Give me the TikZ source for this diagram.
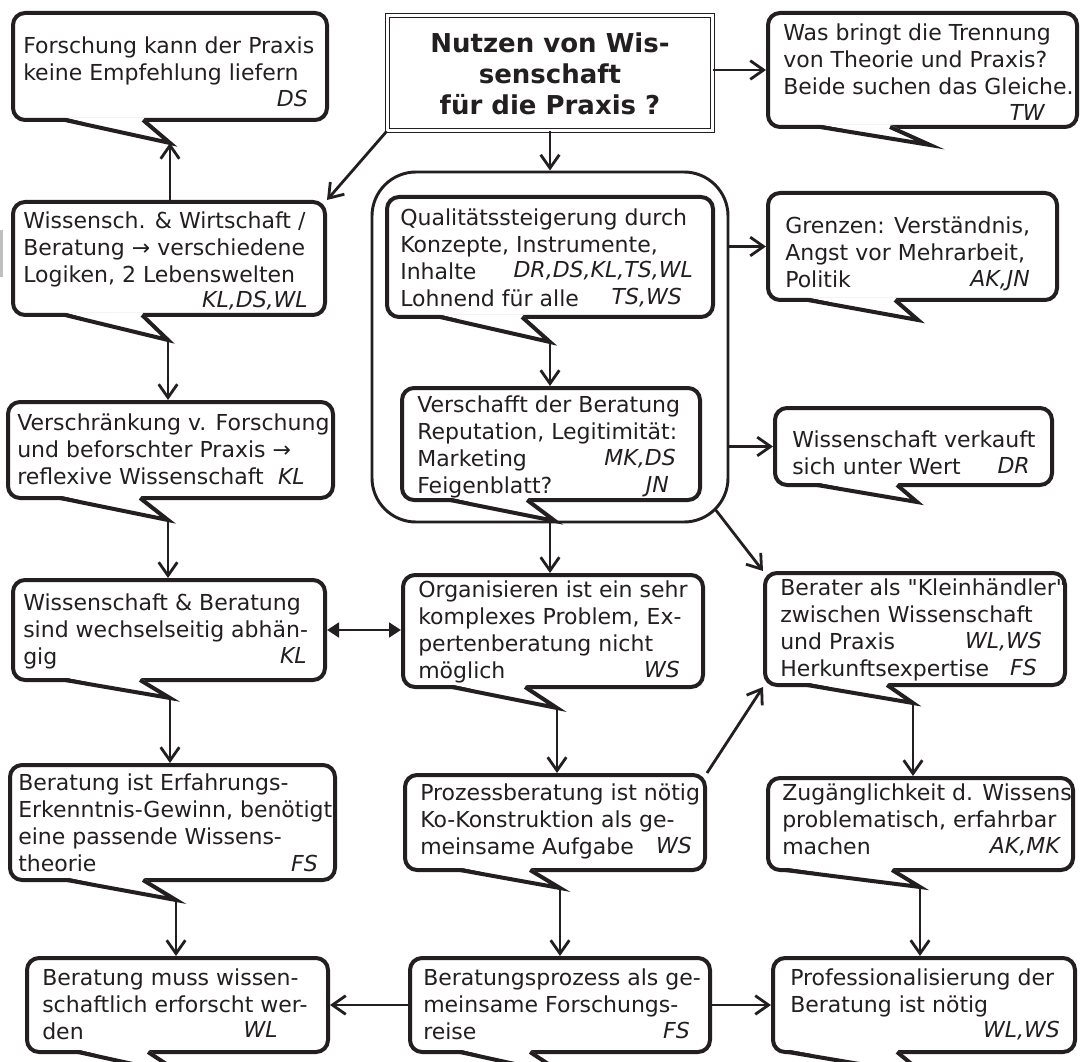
\documentclass[tikz,border=0pt]{standalone}
\usepackage{fontspec}
\setmainfont{DejaVu Sans}[Ligatures=TeXOff,ItalicFont={DejaVu Sans Oblique},BoldFont={DejaVu Sans Bold},BoldItalicFont={DejaVu Sans Bold Oblique}]
\usetikzlibrary{arrows.meta}
\definecolor{ink}{HTML}{231F20}
\tikzset{
  bubbox/.style={draw=ink, line width=3pt, rounded corners=9pt, fill=white, inner sep=0pt},
  bubline/.style={draw=ink, line width=3pt, line join=miter, line cap=butt},
  btxt/.style={text=ink, font=\fontsize{16.5}{20.25}\selectfont, align=left, inner sep=0pt},
  bini/.style={text=ink, font=\fontsize{16.5}{20.25}\selectfont\itshape, inner sep=0pt, anchor=base east},
  ttxt/.style={text=ink, font=\fontsize{19.5}{23.5}\selectfont\bfseries, align=center, inner sep=0pt, anchor=north},
  titlebox/.style={draw=ink, double=white, double distance=1.6pt, line width=1.2pt, fill=white, inner sep=0pt},
  contbox/.style={draw=ink, line width=2.2pt, rounded corners=33pt, inner sep=0pt},
  conn/.style={draw=ink, line width=2.1pt, -{Straight Barb[length=10pt,width=14pt]}},
  dconn/.style={draw=ink, line width=2.1pt, {Triangle[length=9pt,width=11pt]}-{Triangle[length=9pt,width=11pt]}, fill=ink}
}
% #1 name, #2 x1, #3 y1, #4 x2, #5 y2, #6 tail base left, #7 tip x, #8 tip y, #9 tail base right
\newcommand\mybubble[9]{%
  \node[bubbox, minimum width={(#4-#2)*0.75pt}, minimum height={(#5-#3)*0.75pt}] (#1) at ({(#2+#4)/2},{(#3+#5)/2}) {};
  \fill[white] (#6,{#5-2.5}) -- (#7,#8) -- (#9,{#5-2.5}) -- cycle;
  \draw[bubline] (#6,#5) -- (#7,#8) -- (#9,#5);
  \coordinate (#1-tip) at (#7,#8);
}
\newcommand\mytext[4]{\node[btxt, anchor=north west] (#1) at (#2,{#3-18.9}) {\strut #4};}
\newcommand\myini[4]{\node[bini] (#1) at (#2,#3) {#4};}
\begin{document}
\begin{tikzpicture}[x=0.75pt,y=-0.75pt]
\useasboundingbox (0,0) rectangle (1081,1062);
\fill[gray!50] (0,230) rectangle (2.5,277);

% container
\node[contbox, minimum width={356*0.75pt}, minimum height={350*0.75pt}] (co) at (550,347) {};
\coordinate (co-se) at (715,509);

% title
\node[titlebox, minimum width={325*0.75pt}, minimum height={115*0.75pt}] (ti) at (550,73) {};
\node[ttxt] (ti-t) at (550,30.1) {\strut Nutzen von Wis-\\senschaft\\für die Praxis ?};

% bubbles
\mybubble{fo}{13}{13}{327}{120}{65}{170}{143}{143}
\mytext{fo-t}{23}{53}{Forschung kann der Praxis\\keine Empfehlung liefern}
\myini{fo-i}{308}{107}{DS}

\mybubble{tw}{768}{13}{1077}{127}{820}{930}{145}{890}
\mytext{tw-t}{783}{40}{Was bringt die Trennung\\von Theorie und Praxis?\\Beide suchen das Gleiche.}
\myini{tw-i}{1045}{121}{TW}

\mybubble{wi}{13}{202}{325}{315}{65}{168}{340}{142}
\mytext{wi-t}{23}{228}{Wissensch. \& Wirtschaft /\\Beratung → verschiedene\\Logiken, 2 Lebenswelten}
\myini{wi-i}{308}{308}{KL,DS,WL}

\mybubble{qu}{387}{197}{713}{317}{440}{550}{342}{522}
\mytext{qu-t}{400}{225}{Qualitätssteigerung durch\\Konzepte, Instrumente,\\Inhalte\\Lohnend für alle}
\myini{qu-i1}{693}{278}{DR,DS,KL,TS,WL}
\myini{qu-i2}{682}{305}{TS,WS}

\mybubble{ve}{402}{388}{700}{500}{450}{555}{521}{527}
\mytext{ve-t}{417}{412}{Verschafft der Beratung\\Reputation, Legitimität:\\Marketing\\Feigenblatt?}
\myini{ve-i1}{676}{465}{MK,DS}
\myini{ve-i2}{669}{492}{JN}

\mybubble{gr}{768}{193}{1057}{300}{808}{918}{320}{895}
\mytext{gr-t}{785}{233}{Grenzen: Verständnis,\\Angst vor Mehrarbeit,\\Politik}
\myini{gr-i}{1030}{287}{AK,JN}

\mybubble{wv}{775}{408}{1052}{485}{817}{917}{502}{897}
\mytext{wv-t}{792}{447}{Wissenschaft verkauft\\sich unter Wert}
\myini{wv-i}{1030}{473}{DR}

\mybubble{vs}{8}{402}{333}{498}{60}{168}{520}{140}
\mytext{vs-t}{17}{430}{Verschränkung v. Forschung\\und beforschter Praxis →\\reflexive Wissenschaft}
\myini{vs-i}{305}{484}{KL}

\mybubble{wb}{13}{580}{325}{680}{65}{170}{698}{140}
\mytext{wb-t}{23}{610}{Wissenschaft \& Beratung\\sind wechselseitig abhän-\\gig}
\myini{wb-i}{307}{663}{KL}

\mybubble{or}{403}{575}{703}{687}{452}{557}{708}{525}
\mytext{or-t}{418}{597}{Organisieren ist ein sehr\\komplexes Problem, Ex-\\pertenberatung nicht\\möglich}
\myini{or-i}{680}{677}{WS}

\mybubble{be}{765}{573}{1065}{685}{807}{913}{703}{887}
\mytext{be-t}{780}{595}{Berater als "Kleinhändler"\\zwischen Wissenschaft\\und Praxis\\Herkunftsexpertise}
\myini{be-i1}{1042}{648}{WL,WS}
\myini{be-i2}{1037}{675}{FS}

\mybubble{er}{10}{765}{335}{880}{67}{176}{900}{143}
\mytext{er-t}{18}{790}{Beratung ist Erfahrungs-\\Erkenntnis-Gewinn, benötigt\\eine passende Wissens-\\theorie}
\myini{er-i}{318}{871}{FS}

\mybubble{pr}{405}{775}{705}{870}{460}{560}{888}{530}
\mytext{pr-t}{420}{800}{Prozessberatung ist nötig\\Ko-Konstruktion als ge-\\meinsame Aufgabe}
\myini{pr-i}{692}{853}{WS}

\mybubble{zu}{768}{778}{1073}{870}{785}{920}{887}{892}
\mytext{zu-t}{782}{800}{Zugänglichkeit d. Wissens\\problematisch, erfahrbar\\machen}
\myini{zu-i}{1060}{853}{AK,MK}

\mybubble{bm}{27}{958}{328}{1052}{78}{183}{1075}{148}
\mytext{bm-t}{42}{985}{Beratung muss wissen-\\schaftlich erforscht wer-\\den}
\myini{bm-i}{278}{1037}{WL}

\mybubble{bp}{410}{958}{710}{1052}{460}{565}{1075}{530}
\mytext{bp-t}{423}{985}{Beratungsprozess als ge-\\meinsame Forschungs-\\reise}
\myini{bp-i}{690}{1038}{FS}

\mybubble{pf}{773}{958}{1075}{1052}{788}{925}{1075}{897}
\mytext{pf-t}{790}{985}{Professionalisierung der\\Beratung ist nötig}
\myini{pf-i}{1060}{1037}{WL,WS}

% connectors
\draw[conn] (ti.east |- tw.west) -- (tw.west);
\draw[conn] (ti.south) -- (co.north);
\draw[conn] (ti.south west) -- (wi.north east);
\draw[conn] (fo-tip |- wi.north) -- (fo-tip);
\draw[conn] (wi-tip) -- (wi-tip |- vs.north);
\draw[conn] (vs-tip) -- (vs-tip |- wb.north);
\draw[conn] (wb-tip) -- (wb-tip |- er.north);
\draw[conn] (er-tip) -- (er-tip |- bm.north);
\draw[dconn] (wb.east) -- (or.west |- wb.east);
\draw[conn] (qu-tip) -- (qu-tip |- ve.north);
\draw[conn] (co.east |- gr.west) -- (gr.west);
\draw[conn] (co.east |- wv.west) -- (wv.west);
\draw[conn] (co.south) -- (co.south |- or.north);
\draw[conn] (co-se) -- (be.north west);
\draw[conn] (or-tip) -- (or-tip |- pr.north);
\draw[conn] (pr.north east) -- (be.south west);
\draw[conn] (be-tip) -- (be-tip |- zu.north);
\draw[conn] (pr-tip) -- (pr-tip |- bp.north);
\draw[conn] (zu-tip) -- (zu-tip |- pf.north);
\draw[conn] (bp.west) -- (bm.east |- bp.west);
\draw[conn] (bp.east) -- (pf.west |- bp.east);
\end{tikzpicture}
\end{document}
